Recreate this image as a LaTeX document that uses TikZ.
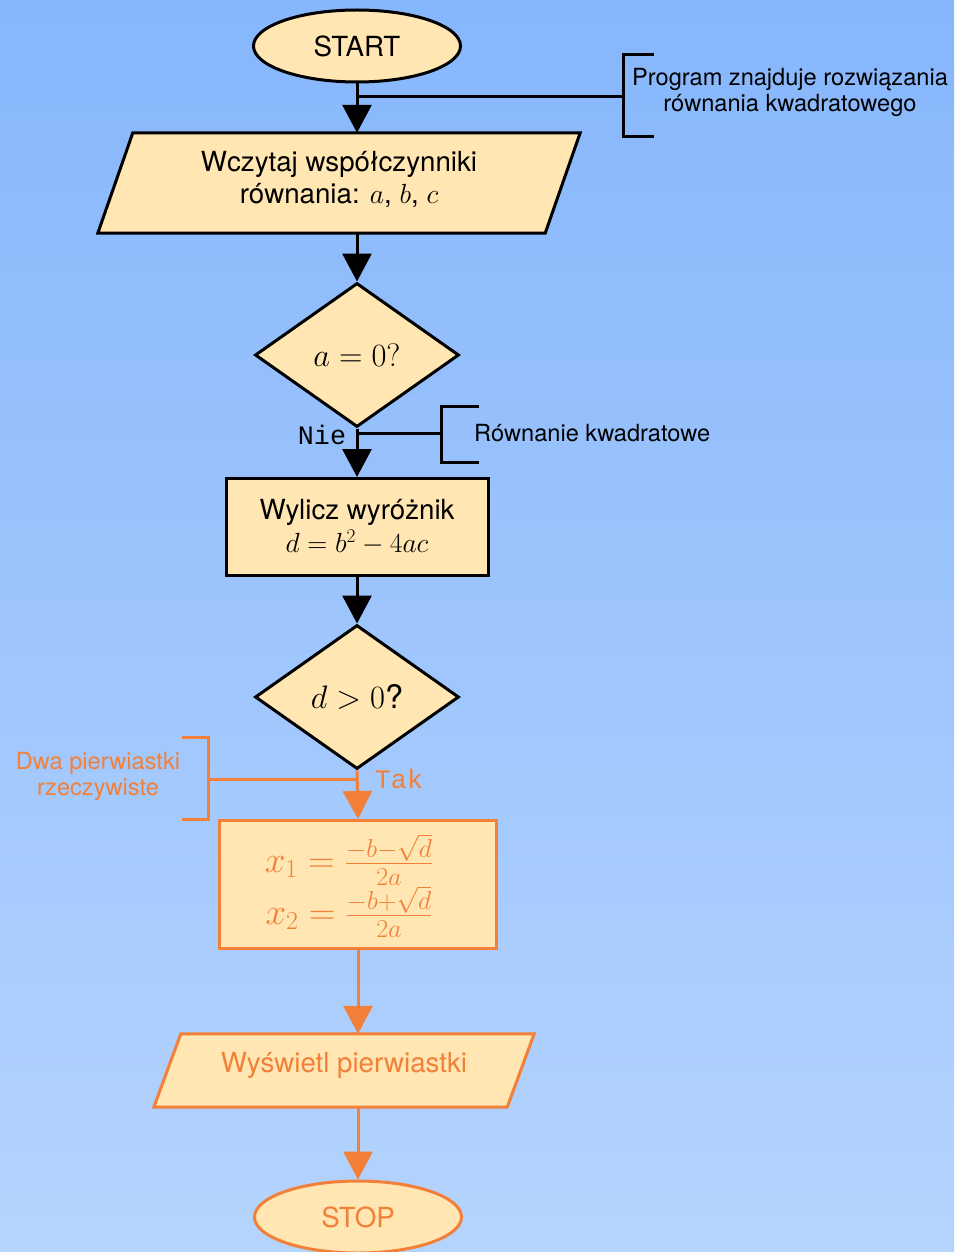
\RequirePackage{fix-cm}
\documentclass[tikz,border=0pt]{standalone}
\usepackage[no-math]{fontspec}
\setmainfont{TeX Gyre Heros}
\newfontfamily\codefont{Liberation Mono}
\usetikzlibrary{shapes.geometric,arrows.meta,backgrounds,calc}

\definecolor{bgtop}{RGB}{134,182,252}
\definecolor{bgbot}{RGB}{181,212,253}
\definecolor{boxfill}{RGB}{255,230,178}
\definecolor{accent}{RGB}{242,128,56}

\newcommand{\bodysize}{\fontsize{27.7pt}{32pt}\selectfont}
\newcommand{\asksize}{\fontsize{32.5pt}{38pt}\selectfont}
\newcommand{\formulasize}{\fontsize{37pt}{52pt}\selectfont}
\newcommand{\notesize}{\fontsize{23.6pt}{26pt}\selectfont}
\newcommand{\labelsize}{\fontsize{26.7pt}{30pt}\selectfont}

\tikzset{
  x=1pt, y=-1pt,
  shapebase/.style={line width=3pt, draw=black, fill=boxfill, font=\bodysize, align=center, inner sep=0pt},
  term/.style={shapebase, ellipse, minimum width=207pt, minimum height=72pt},
  decision/.style={shapebase, diamond, minimum width=204pt, minimum height=144pt, font=\asksize},
  process/.style={shapebase, rectangle},
  iofrm/.style={rectangle, draw=none, fill=none, inner sep=0pt},
  plain/.style={font=\bodysize, align=center, inner sep=0pt},
  iobox/.style={line width=3pt, draw=black, fill=boxfill},
  hot/.style={draw=accent, text=accent},
  arr/.style={line width=3pt, -{Triangle[width=29pt,length=28pt]}},
  link/.style={line width=3pt},
  note/.style={font=\notesize, align=center, inner sep=2pt},
  tag/.style={font=\labelsize\codefont, inner sep=0pt},
}

\begin{document}
\begin{tikzpicture}
\useasboundingbox (0,0) rectangle (954,1252);

% flowchart nodes
\node[term] (start) at (357,46) {START};
\node[iofrm, minimum width=482pt, minimum height=100pt] (in1) at (339,183) {};
\node[plain] (in1t) at ([yshift=4pt]in1.center) {Wczytaj współczynniki\\równania: $a$, $b$, $c$};
\node[decision] (d1) at (357,355) {$a=0?$};
\node[process, minimum width=262pt, minimum height=97pt] (p1) at (357,527)
  {Wylicz wyróżnik\\[1pt]$d=b^2-4ac$};
\node[decision] (d2) at (357,697) {$d>0$?};
\node[process, hot, minimum width=277pt, minimum height=128pt] (f) at (358,884.5) {};
\node[plain, font=\formulasize, text=accent] (ft) at ([xshift=-9pt,yshift=-1pt]f.center)
  {$x_1=\frac{-b-\sqrt{d}}{2a}$\\$x_2=\frac{-b+\sqrt{d}}{2a}$};
\node[iofrm, minimum width=380pt, minimum height=73pt] (out) at (344,1070.5) {};
\node[plain, text=accent] (outt) at ([yshift=5pt]out.center) {Wyświetl pierwiastki};
\node[term, hot] (stop) at (358,1217) {STOP};

% background gradient and the two parallelograms
\begin{scope}[on background layer]
  \shade[top color=bgtop, bottom color=bgbot] (0,0) rectangle (954,1252);
  \draw[iobox] ([xshift=35pt]in1.north west) -- (in1.north east)
    -- ([xshift=-35pt]in1.south east) -- (in1.south west) -- cycle;
  \draw[iobox, draw=accent] ([xshift=27pt]out.north west) -- (out.north east)
    -- ([xshift=-27pt]out.south east) -- (out.south west) -- cycle;
\end{scope}

% main flow
\draw[arr] (start.south) -- (start.south |- in1.north);
\draw[arr] (d1.north |- in1.south) -- (d1.north);
\draw[arr] (d1.south) -- (p1.north);
\draw[arr] (p1.south) -- (d2.north);
\draw[arr, accent] (d2.south) -- (f.north);
\draw[arr, accent] (f.south) -- (f.south |- out.north);
\draw[arr, accent] (stop.north |- out.south) -- (stop.north);

% branch labels
\node[tag] (nie) at (322,435) {Nie};
\node[tag, text=accent] (tak) at (399,779) {Tak};

% comment: program purpose
\coordinate (c1) at (623,97);
\draw[link] (c1 -| start.south) -- (c1);
\draw[link] ($(c1)+(31,-42)$) -- ($(c1)+(0,-42)$) -- ($(c1)+(0,40)$) -- ($(c1)+(31,40)$);
\node[note] (n1) at (790,92) {Program znajduje rozwiązania\\równania kwadratowego};

% comment: quadratic case
\coordinate (c2) at (441,433);
\draw[link] (c2 -| d1.south) -- (c2);
\draw[link] ($(c2)+(38,-27)$) -- ($(c2)+(0,-27)$) -- ($(c2)+(0,29)$) -- ($(c2)+(38,29)$);
\node[note, anchor=west] (n2) at (472,433) {Równanie kwadratowe};

% comment: two real roots
\coordinate (c3) at (208,779);
\draw[link, accent] (c3 -| d2.south) -- (c3);
\draw[link, accent] ($(c3)+(-26,-42)$) -- ($(c3)+(0,-42)$) -- ($(c3)+(0,40)$) -- ($(c3)+(-26,40)$);
\node[note, text=accent] (n3) at (98,776) {Dwa pierwiastki\\rzeczywiste};
\end{tikzpicture}
\end{document}
